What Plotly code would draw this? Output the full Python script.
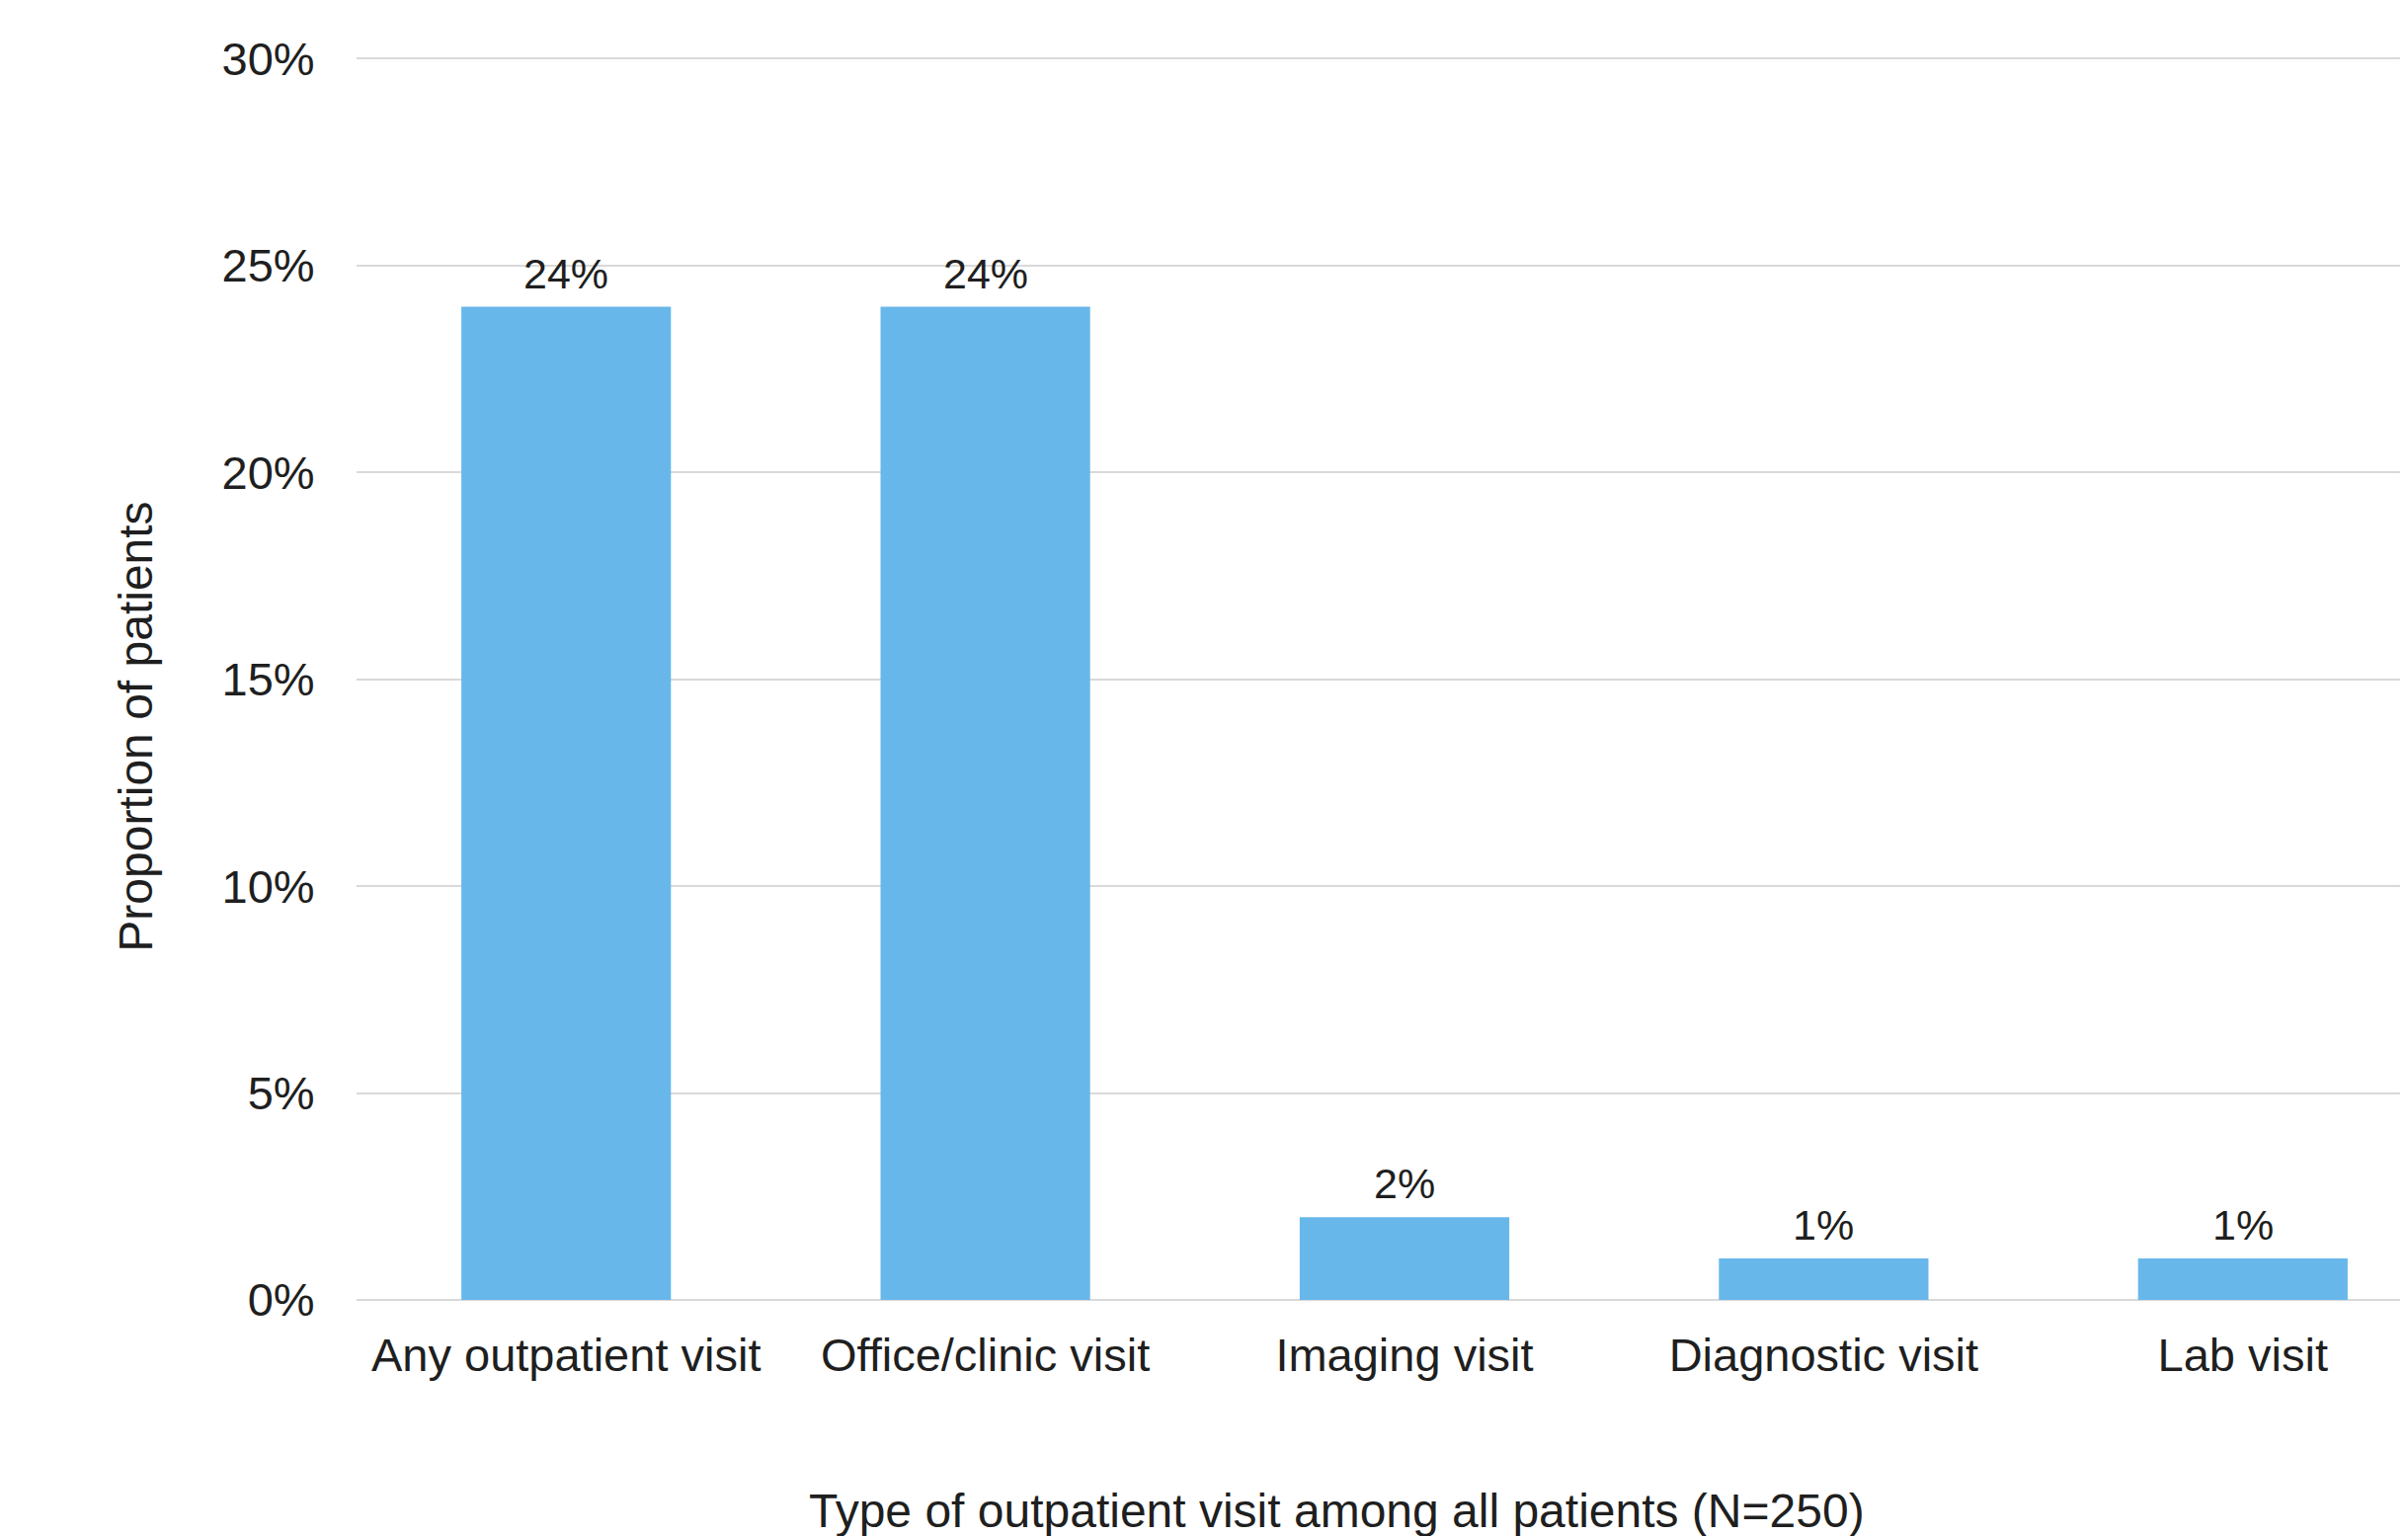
import plotly.graph_objects as go

categories = ["Any outpatient visit", "Office/clinic visit", "Imaging visit", "Diagnostic visit", "Lab visit"]
values = [24, 24, 2, 1, 1]
y_ticks = [0, 5, 10, 15, 20, 25, 30]
y_tick_labels = ["0%", "5%", "10%", "15%", "20%", "25%", "30%"]
x_title = "Type of outpatient visit among all patients (N=250)"
y_title = "Proportion of patients"

FONT = "Liberation Sans, Arial, sans-serif"
TXT = "#1f1f1f"

fig = go.Figure()
fig.add_trace(go.Bar(
    x=categories, y=values, width=0.5,
    marker=dict(color="#68B7EA", line=dict(width=0)),
    showlegend=False,
))
for c, v in zip(categories, values):
    fig.add_annotation(x=c, y=v, text=f"{v}%", showarrow=False,
                       yanchor="bottom", yshift=8,
                       font=dict(family=FONT, size=43, color=TXT))

fig.add_annotation(text=x_title, xref="paper", yref="paper", x=0.478, y=-0.1695,
                   xanchor="center", yanchor="middle", showarrow=False,
                   font=dict(family=FONT, size=48, color=TXT))
fig.add_annotation(text=y_title, xref="paper", yref="paper", x=-0.1078, y=0.4614,
                   xanchor="center", yanchor="middle", showarrow=False, textangle=-90,
                   font=dict(family=FONT, size=48, color=TXT))

fig.update_layout(
    width=2430, height=1547,
    margin=dict(l=353, r=0, t=50, b=239, autoexpand=False),
    paper_bgcolor="white", plot_bgcolor="white",
    font=dict(family=FONT, color=TXT),
    bargap=0.5,
)
fig.update_xaxes(
    range=[-0.5, 4.394],
    showgrid=False, showline=False, zeroline=False,
    tickfont=dict(family=FONT, size=47, color=TXT),
    ticks="outside", ticklen=15, tickcolor="rgba(0,0,0,0)",
)
fig.update_yaxes(
    range=[0, 30.03], tickvals=y_ticks, ticktext=y_tick_labels,
    showgrid=True, gridcolor="#d9d9d9", gridwidth=2,
    zeroline=True, zerolinecolor="#d9d9d9", zerolinewidth=2,
    showline=False,
    tickfont=dict(family=FONT, size=47, color=TXT),
    ticks="outside", ticklen=32, tickcolor="rgba(0,0,0,0)",
)
fig.write_html("out.html")
